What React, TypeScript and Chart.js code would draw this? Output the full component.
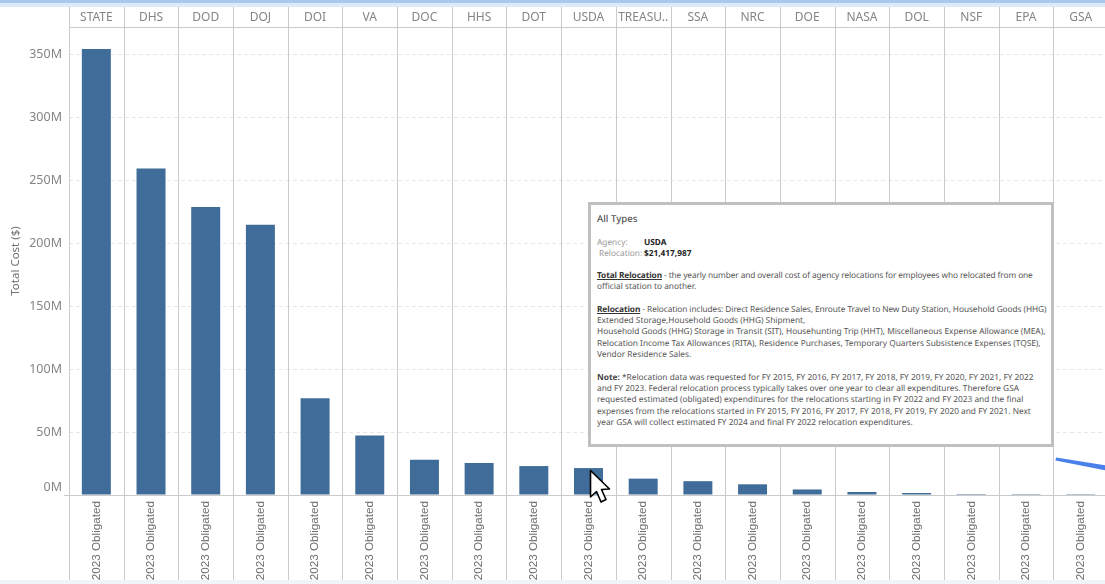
import React, { useEffect, useRef } from "react";
import { Chart, registerables } from "chart.js";

Chart.register(...registerables);

const agencies = ["STATE","DHS","DOD","DOJ","DOI","VA","DOC","HHS","DOT","USDA","TREASU..","SSA","NRC","DOE","NASA","DOL","NSF","EPA","GSA"];
const obligated = [354.5,259.5,229,214.8,77,47.3,28,25.5,23,21.4,13,11,8.5,4.4,2.4,1.6,0.8,0.7,0.7];
const yTicks = [0,50,100,150,200,250,300,350];
const rowLabel = "2023 Obligated";
const axisTitle = "Total Cost ($)";

const tipTitle = "All Types";
const tipAgency = ["Agency:", "USDA"];
const tipRelocation = ["Relocation:", "$21,417,987"];
const tipTotalHead = "Total Relocation";
const tipTotal = [" - the yearly number and overall cost of agency relocations for employees who relocated from one", "official station to another."];
const tipRelHead = "Relocation";
const tipRel = [
  " - Relocation includes: Direct Residence Sales, Enroute Travel to New Duty Station, Household Goods (HHG)",
  "Extended Storage,Household Goods (HHG) Shipment,",
  "Household Goods (HHG) Storage in Transit (SIT), Househunting Trip (HHT), Miscellaneous Expense Allowance (MEA),",
  "Relocation Income Tax Allowances (RITA), Residence Purchases, Temporary Quarters Subsistence Expenses (TQSE),",
  "Vendor Residence Sales.",
];
const tipNoteHead = "Note:";
const tipNote = [
  " *Relocation data was requested for FY 2015, FY 2016, FY 2017, FY 2018, FY 2019,  FY 2020, FY 2021, FY 2022",
  "and FY 2023. Federal relocation process typically takes over one year to clear all expenditures. Therefore GSA",
  "requested estimated (obligated) expenditures for the relocations starting in FY 2022 and FY 2023 and the final",
  "expenses from the relocations started in FY 2015, FY 2016, FY 2017, FY 2018, FY 2019, FY 2020 and FY 2021. Next",
  "year GSA will collect estimated FY 2024 and final FY 2022 relocation expenditures.",
];

const font = "'Noto Sans', sans-serif";
const yTickColor = "#858585";
const yTickSize = 12.5;

const rules = {
  id: "rules",
  afterDatasetsDraw(chart: any) {
    const { ctx, chartArea, scales } = chart;
    const x = scales.x;
    const half = (x.getPixelForTick(1) - x.getPixelForTick(0)) / 2;
    ctx.save();
    ctx.strokeStyle = "#cbcbcb";
    ctx.lineWidth = 1;
    ctx.beginPath();
    agencies.forEach((_, i) => {
      const px = Math.round(x.getPixelForTick(i) - half) + 0.5;
      ctx.moveTo(px, 7);
      ctx.lineTo(px, 580);
    });
    ctx.moveTo(chartArea.left, chartArea.top + 0.5);
    ctx.lineTo(chartArea.right, chartArea.top + 0.5);
    ctx.moveTo(chartArea.left - 5, chartArea.bottom + 0.5);
    ctx.lineTo(chartArea.right, chartArea.bottom + 0.5);
    ctx.stroke();
    // the lowest tick label sits above its gridline, inside the pane
    ctx.fillStyle = yTickColor;
    ctx.font = `${yTickSize}px ${font}`;
    ctx.textAlign = "right";
    ctx.textBaseline = "middle";
    ctx.fillText(`${yTicks[0]}M`, chartArea.left - 7, scales.y.getPixelForValue(yTicks[0]) - 8);
    ctx.restore();
  },
};

const lineStyle: React.CSSProperties = { position: "absolute", left: 6, whiteSpace: "nowrap", lineHeight: "11px" };

function TipLine({ top, head, text, ls = 0 }: { top: number; head?: React.ReactNode; text: string; ls?: number }) {
  return (
    <div style={{ ...lineStyle, top, letterSpacing: ls }}>
      {head}
      <span>{text}</span>
    </div>
  );
}

export default function App() {
  const ref = useRef<HTMLCanvasElement>(null);
  useEffect(() => {
    const chart = new Chart(ref.current!, {
      type: "bar",
      data: {
        labels: agencies,
        datasets: [{ data: obligated, backgroundColor: "#3f6c99", barPercentage: 0.53, categoryPercentage: 1 }],
      },
      plugins: [rules],
      options: {
        animation: false,
        responsive: false,
        layout: { padding: 0 },
        plugins: { legend: { display: false }, tooltip: { enabled: false } },
        scales: {
          x: {
            position: "bottom",
            grid: { display: false, drawTicks: false },
            border: { display: false },
            afterFit(s: any) { s.height = 89; },
            ticks: {
              autoSkip: false,
              minRotation: 90,
              maxRotation: 90,
              padding: 6,
              color: "#6e6e6e",
              font: { family: "'Liberation Sans', sans-serif", size: 11.7 },
              callback: () => rowLabel,
            },
          },
          x2: {
            type: "category",
            position: "top",
            labels: agencies,
            offset: true,
            grid: { display: false, drawTicks: false },
            border: { display: false },
            afterFit(s: any) { s.height = 27; },
            ticks: {
              autoSkip: false,
              maxRotation: 0,
              minRotation: 0,
              padding: 2,
              color: "#858585",
              font: { family: font, size: 12 },
            },
          },
          y: {
            min: 0,
            max: 372,
            afterBuildTicks(s: any) { s.ticks = yTicks.map((value) => ({ value })); },
            afterFit(s: any) { s.width = 69; },
            grid: { color: "#e6e6e6", drawTicks: false },
            border: { display: false, dash: [4, 3] },
            title: { display: true, text: axisTitle, color: "#707070", font: { family: font, size: 11.5 }, padding: { top: 9, bottom: 0 } },
            ticks: {
              padding: 7,
              color: yTickColor,
              font: { family: font, size: yTickSize },
              callback: (v: any) => (v === yTicks[0] ? "" : `${v}M`),
            },
          },
        },
      } as any,
    });
    return () => chart.destroy();
  }, []);

  return (
    <div style={{ position: "fixed", left: 0, top: 0, width: 1105, height: 584, overflow: "hidden", background: "#fff", filter: "blur(0.3px)" }}>
      <canvas ref={ref} width={1108} height={584} style={{ position: "absolute", left: 0, top: 0, display: "block" }} />
      <div style={{ position: "absolute", left: 0, top: 0, width: 1105, height: 3, background: "#a9c9ee" }} />
      <div style={{ position: "absolute", left: 0, top: 3, width: 1105, height: 4, background: "#dde9f8" }} />
      <div style={{ position: "absolute", left: 0, top: 580, width: 1105, height: 4, background: "#f0f4fb" }} />

      <div style={{ position: "absolute", left: 588, top: 202, width: 460, height: 239, background: "#fff", border: "3px solid #c0c0c0", fontFamily: font, fontSize: 8.3, color: "#555", textRendering: "geometricPrecision" }}>
        <div style={{ ...lineStyle, top: 8, fontSize: 9.6, color: "#555", fontWeight: 500 }}>{tipTitle}</div>
        <div style={{ ...lineStyle, top: 32, color: "#999" }}>{tipAgency[0]}</div>
        <div style={{ ...lineStyle, top: 32, left: 53, color: "#222", fontWeight: 700 }}>{tipAgency[1]}</div>
        <div style={{ ...lineStyle, top: 43, left: 8, color: "#999" }}>{tipRelocation[0]}</div>
        <div style={{ ...lineStyle, top: 43, left: 53, color: "#222", fontWeight: 700 }}>{tipRelocation[1]}</div>
        <TipLine top={65} ls={-0.1} head={<b style={{ textDecoration: "underline", color: "#333" }}>{tipTotalHead}</b>} text={tipTotal[0]} />
        <TipLine top={76} text={tipTotal[1]} />
        <TipLine top={99} ls={-0.07} head={<b style={{ textDecoration: "underline", color: "#333" }}>{tipRelHead}</b>} text={tipRel[0]} />
        {tipRel.slice(1).map((t, i) => (
          <TipLine key={i} top={110 + i * 11.4} text={t} />
        ))}
        <TipLine top={167} head={<b style={{ color: "#444" }}>{tipNoteHead}</b>} text={tipNote[0]} />
        {tipNote.slice(1).map((t, i) => (
          <TipLine key={i} top={178.2 + i * 11.2} text={t} />
        ))}
      </div>

      <svg width={1105} height={584} style={{ position: "absolute", left: 0, top: 0, pointerEvents: "none" }}>
        <path d="M1056 457.5 L1106 465.5 L1106 470.5 L1055.5 460.5 Z" fill="#4a80ea" />
        <path d="M590.5 470.5 L590.5 497 L596.5 491.5 L601 502 L606 499.5 L601.5 489.5 L609.5 489 Z" fill="#fff" stroke="#000" strokeWidth={1.6} strokeLinejoin="round" />
      </svg>
    </div>
  );
}
